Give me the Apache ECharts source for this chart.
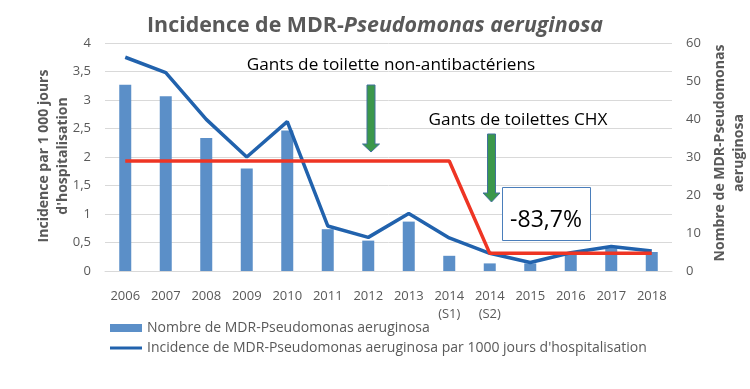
<!DOCTYPE html>
<html>
<head>
<meta charset="utf-8">
<script src="https://cdn.jsdelivr.net/npm/echarts@6/dist/echarts.min.js"></script>
<style>html,body{margin:0;padding:0;background:#fff}#c{width:750px;height:389px}</style>
</head>
<body>
<div id="c"></div>
<script>
const categories = ['2006','2007','2008','2009','2010','2011','2012','2013','2014\n(S1)','2014\n(S2)','2015','2016','2017','2018'];
const counts = [49,46,35,27,37,11,8,13,4,2,2,5,6,5];
const incidence = [3.75,3.48,2.66,2.0,2.62,0.79,0.59,1.01,0.58,0.31,0.15,0.32,0.43,0.35];
const trend = [1.93,1.93,1.93,1.93,1.93,1.93,1.93,1.93,1.93,0.31,0.31,0.31,0.31,0.31];
const leftTicks = {min:0, max:4, interval:0.5};
const rightTicks = {min:0, max:60, interval:10};

const FONT = 'Open Sans';
const GRAY = '#595959';
const chart = echarts.init(document.getElementById('c'), null, {renderer:'canvas'});

function arrow(cx, top, headStart, tip) {
  return {
    type:'polygon', z:100,
    shape:{points:[[cx-4,top],[cx+4,top],[cx+4,headStart],[cx+8.5,headStart],[cx,tip],[cx-8.5,headStart],[cx-4,headStart]]},
    style:{fill:'#3b974b', stroke:'#41719c', lineWidth:1}
  };
}

chart.setOption({
  animation:false,
  textStyle:{fontFamily:FONT},
  title:{
    left:'center', top:10,
    text:'{a|Incidence de MDR-}{b|Pseudomonas aeruginosa}',
    textStyle:{
      rich:{
        a:{fontFamily:FONT, fontSize:21.4, fontWeight:'bold', color:GRAY},
        b:{fontFamily:FONT, fontSize:21.4, fontWeight:'bold', fontStyle:'italic', color:GRAY}
      }
    }
  },
  grid:{left:105, right:78, top:43, bottom:118},
  legend:{
    orient:'vertical', left:105, top:316, itemWidth:32, itemHeight:8, itemGap:6,
    textStyle:{fontFamily:FONT, fontSize:14, color:GRAY},
    data:[{name:'Nombre de MDR-Pseudomonas aeruginosa', icon:'rect'},
          {name:"Incidence de MDR-Pseudomonas aeruginosa par 1000 jours d'hospitalisation",
           icon:'path://M0,0 L0,0 M0,2.5 L32,2.5 L32,5.5 L0,5.5 Z M32,8 L32,8'}]
  },
  xAxis:{
    type:'category', data:categories,
    axisLine:{lineStyle:{color:'#d9d9d9'}}, axisTick:{show:false},
    axisLabel:{fontFamily:FONT, fontSize:13, color:GRAY, margin:16, lineHeight:18, interval:0}
  },
  yAxis:[
    {type:'value', min:leftTicks.min, max:leftTicks.max, interval:leftTicks.interval,
     axisLabel:{fontFamily:FONT, fontSize:13, color:GRAY, margin:14, formatter:v=>String(v).replace('.',',')},
     splitLine:{lineStyle:{color:'#d9d9d9', width:1}}, axisLine:{show:false}, axisTick:{show:false}},
    {type:'value', min:rightTicks.min, max:rightTicks.max, interval:rightTicks.interval, position:'right',
     axisLabel:{fontFamily:FONT, fontSize:13, color:GRAY, margin:14},
     splitLine:{show:false}, axisLine:{show:false}, axisTick:{show:false}}
  ],
  series:[
    {name:'Nombre de MDR-Pseudomonas aeruginosa', type:'bar', yAxisIndex:1, data:counts,
     barWidth:12, itemStyle:{color:'#5b8fc8'}, z:1},
    {name:"Incidence de MDR-Pseudomonas aeruginosa par 1000 jours d'hospitalisation", type:'line', yAxisIndex:0,
     data:incidence, symbol:'none', lineStyle:{color:'#2162ad', width:3.5}, itemStyle:{color:'#2162ad'}, z:3},
    {name:'trend', type:'line', yAxisIndex:0, data:trend, symbol:'none',
     lineStyle:{color:'#ee3524', width:3.5}, z:4}
  ],
  graphic:[
    {type:'text', z:100, style:{text:'Incidence par 1 000 jours', font:'bold 14px "Open Sans"', fill:GRAY, align:'center', verticalAlign:'middle'}, x:44, y:156, rotation:Math.PI/2},
    {type:'text', z:100, style:{text:"d'hospitalisation", font:'bold 14px "Open Sans"', fill:GRAY, align:'center', verticalAlign:'middle'}, x:63, y:156, rotation:Math.PI/2},
    {type:'text', z:100, style:{text:'Nombre de MDR-Pseudomonas', font:'bold 14px "Open Sans"', fill:GRAY, align:'center', verticalAlign:'middle'}, x:720, y:153, rotation:Math.PI/2},
    {type:'text', z:100, style:{text:'aeruginosa', font:'bold 14px "Open Sans"', fill:GRAY, align:'center', verticalAlign:'middle'}, x:739, y:153, rotation:Math.PI/2},
    {type:'text', z:100, style:{text:'Gants de toilette non-antibactériens', font:'17.2px "Open Sans"', fill:'#000', align:'center', verticalAlign:'middle'}, x:391, y:65},
    {type:'text', z:100, style:{text:'Gants de toilettes CHX', font:'17.2px "Open Sans"', fill:'#000', align:'center', verticalAlign:'middle'}, x:518, y:120},
    arrow(371, 85, 144, 152),
    arrow(491.5, 134, 193, 202),
    {type:'rect', z:100, shape:{x:502.5, y:187.5, width:88, height:53}, style:{fill:'#fff', stroke:'#4a7ebb', lineWidth:1}},
    {type:'text', z:101, style:{text:'-83,7%', font:'23px "Open Sans"', fill:'#000', align:'center', verticalAlign:'middle'}, x:546, y:220}
  ]
});
</script>
</body>
</html>
